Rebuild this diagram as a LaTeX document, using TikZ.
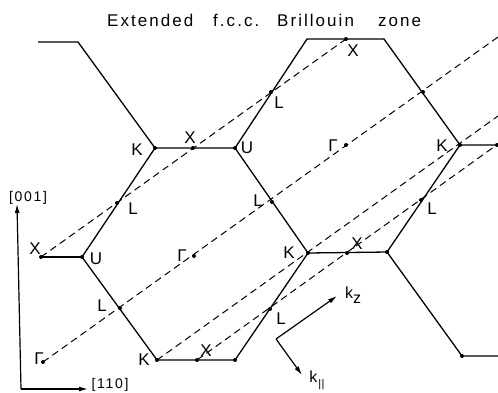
\documentclass[tikz,border=0pt]{standalone}
\usepackage{fontspec}
\setmainfont{Liberation Sans}
\newfontfamily\titlefont[LetterSpace=12]{Liberation Sans}
\usetikzlibrary{arrows.meta}
\begin{document}
\begin{tikzpicture}[x=1pt,y=-1pt,
  edge/.style={line width=1.3pt, line join=round},
  dsh/.style={line width=1pt, dash pattern=on 7pt off 4.5pt},
  dotc/.style={circle, fill=black, inner sep=0pt, minimum size=4pt},
  lbl/.style={inner sep=0pt, font=\fontsize{17}{17}\selectfont},
  ttl/.style={inner sep=0pt, anchor=base west, font=\titlefont\fontsize{17}{17}\selectfont},
  axl/.style={inner sep=0pt, font=\titlefont\fontsize{14}{14}\selectfont},
  arr/.style={line width=1.2pt, -{Latex[length=9pt,width=5pt]}}]
\useasboundingbox (0,0) rectangle (498,392);
% title
\node[ttl] (t1) at (107,26) {Extended};
\node[ttl] (t2) at (213,26) {f.c.c.};
\node[ttl] (t3) at (277,26) {Brillouin};
\node[ttl] (t4) at (378,26) {zone};
% points
\coordinate (TL0) at (38,42);
\coordinate (TL1) at (78,42);
\coordinate (T1) at (307,39);
\coordinate (T2) at (384,39);
\coordinate (B2) at (498,356);
\coordinate (E2) at (498,37);
\coordinate (E3) at (498,116);
\coordinate (E4) at (498,144);
\foreach \n/\p in {K1/{155,148}, X1/{193,148}, U1/{235,148}, L1/{117,203}, X2/{41,257},
  U2/{82,257}, L2/{120,308}, K3/{157,360}, X3/{197,360}, V1/{235,360}, G1/{43,362},
  G2/{194,256}, G3/{346,145}, L3/{272,202}, K2/{308,253}, L4/{270,309}, X4/{347,253},
  W1/{387,252}, L5/{421,200}, K4/{460,145}, R1/{497,145}, M1/{423,92}, L6/{271,92},
  X5/{346,39}, B1/{462,356}}
  \node[dotc] (\n) at (\p) {};
% zone boundaries
\draw[edge] (TL0) -- (TL1) -- (K1.center) -- (U1.center) -- (T1) -- (T2) -- (K4.center) -- (R1.center);
\draw[edge] (U1.center) -- (K2.center) -- (W1.center) -- (K4.center);
\draw[edge] (W1.center) -- (B1.center) -- (B2);
\draw[edge] (K2.center) -- (V1.center) -- (K3.center) -- (U2.center) -- (K1.center);
\draw[edge] (U2.center) -- (X2.center);
% dashed lines
\draw[dsh] (X2.center) -- (X5.center);
\draw[dsh] (G1.center) -- (E2);
\draw[dsh] (K3.center) -- (E3);
\draw[dsh] (X3.center) -- (E4);
% labels
\node[lbl] (lK1) at (137,150) {K};
\node[lbl] (lX1) at (190,138) {X};
\node[lbl] (lU1) at (247,148) {U};
\node[lbl] (lX5) at (353,51) {X};
\node[lbl] (lL6) at (279,103) {L};
\node[lbl] (lG3) at (333,146) {Γ};
\node[lbl] (lK4) at (442,146) {K};
\node[lbl] (lL5) at (432,209) {L};
\node[lbl] (lL3) at (258,201) {L};
\node[lbl] (lK2) at (289,253) {K};
\node[lbl] (lX4) at (357,244) {X};
\node[lbl] (lL4) at (281,319) {L};
\node[lbl] (lX2) at (35,249) {X};
\node[lbl] (lU2) at (96,259) {U};
\node[lbl] (lL1) at (133,209) {L};
\node[lbl] (lL2) at (102,306) {L};
\node[lbl] (lG2) at (182,256) {Γ};
\node[lbl] (lG1) at (39,359) {Γ};
\node[lbl] (lK3) at (144,360) {K};
\node[lbl] (lX3) at (206,351) {X};
% crystal axes
\coordinate (O1) at (21,389);
\coordinate (A1) at (17,204);
\coordinate (A2) at (88,389);
\draw[arr] (O1) -- (A1);
\draw[arr] (O1) -- (A2);
\node[axl] (a001) at (28,198) {[001]};
\node[axl] (a110) at (110,385) {[110]};
% k axes
\coordinate (O2) at (276,339);
\coordinate (KZ) at (337,296);
\coordinate (KP) at (302,375);
\draw[arr] (O2) -- (KZ);
\draw[arr] (O2) -- (KP);
\node[lbl, font=\fontsize{16}{16}\selectfont] (lkz) at (353,295) {k\raisebox{-0.3em}{z}};
\node[lbl, font=\fontsize{16}{16}\selectfont] (lkp) at (317,380) {k\kern1pt\raisebox{-0.3em}{\fontsize{11}{11}\selectfont|\kern0.3pt|}};
\end{tikzpicture}
\end{document}
